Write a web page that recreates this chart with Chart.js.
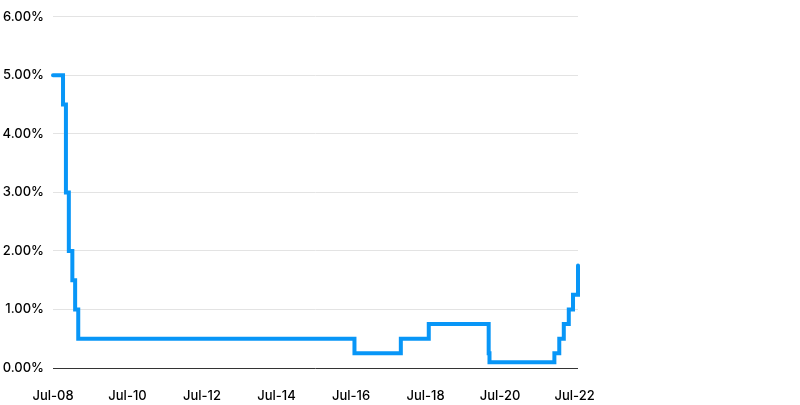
<!DOCTYPE html>
<html>
<head>
<meta charset="utf-8">
<script src="https://cdn.jsdelivr.net/npm/chart.js@4"></script>
<style>
  html, body { margin: 0; padding: 0; background: #fff; }
  #wrap { width: 800px; height: 405px; position: relative; }
</style>
</head>
<body>
<div id="wrap"><canvas id="rateChart"></canvas></div>
<script>
// Dates where the rate changed, and the rate from that date on
const changeDates = [
  '2008-07-01', '2008-10-08', '2008-11-06', '2008-12-04', '2009-01-08',
  '2009-02-05', '2009-03-05', '2016-08-04', '2017-11-02', '2018-08-02',
  '2020-03-11', '2020-03-19', '2021-12-16', '2022-02-03', '2022-03-17',
  '2022-05-05', '2022-06-16', '2022-08-04'
];
const rates = [
  5.00, 4.50, 3.00, 2.00, 1.50,
  1.00, 0.50, 0.25, 0.50, 0.75,
  0.25, 0.10, 0.25, 0.50, 0.75,
  1.00, 1.25, 1.75
];
const tickLabels = ['Jul-08', 'Jul-10', 'Jul-12', 'Jul-14', 'Jul-16', 'Jul-18', 'Jul-20', 'Jul-22'];

// months since Jul 2008
function monthsFromStart(s) {
  const [y, m, d] = s.split('-').map(Number);
  return (y - 2008) * 12 + (m - 7) + (d - 1) / 30.5;
}

const points = changeDates.map((d, i) => ({ x: monthsFromStart(d), y: rates[i] }));

const font = { family: 'Inter, "Noto Sans", sans-serif', size: 13, weight: '500' };

new Chart(document.getElementById('rateChart'), {
  type: 'line',
  data: {
    datasets: [{
      data: points,
      borderColor: '#0896f7',
      borderWidth: 4,
      stepped: 'before',
      pointRadius: 0,
      borderCapStyle: 'round',
      clip: false,
      fill: false
    }]
  },
  options: {
    responsive: true,
    maintainAspectRatio: false,
    animation: false,
    layout: { padding: { top: 15, right: 222, left: 0, bottom: 0 } },
    plugins: { legend: { display: false }, tooltip: { enabled: false } },
    scales: {
      x: {
        type: 'linear',
        min: 0,
        max: points[points.length - 1].x,
        afterBuildTicks: (scale) => {
          scale.ticks = tickLabels.map((l, i) => ({ value: i * 24 }));
        },
        afterFit: (scale) => { scale.height = 37; },
        grid: { display: false, drawTicks: false },
        border: { display: false },
        ticks: {
          autoSkip: false,
          maxRotation: 0,
          padding: 20,
          color: '#000',
          font: font,
          callback: (v) => tickLabels[Math.round(v / 24)]
        }
      },
      y: {
        min: 0,
        max: 6,
        afterFit: (scale) => { scale.width = 53; },
        grid: {
          drawTicks: false,
          color: (ctx) => ctx.tick.value === 0 ? '#333333' : '#e3e3e3',
          lineWidth: 1
        },
        border: { display: false },
        ticks: {
          stepSize: 1,
          padding: 9,
          color: '#000',
          font: font,
          callback: (v) => v.toFixed(2) + '%'
        }
      }
    }
  }
});
</script>
</body>
</html>
